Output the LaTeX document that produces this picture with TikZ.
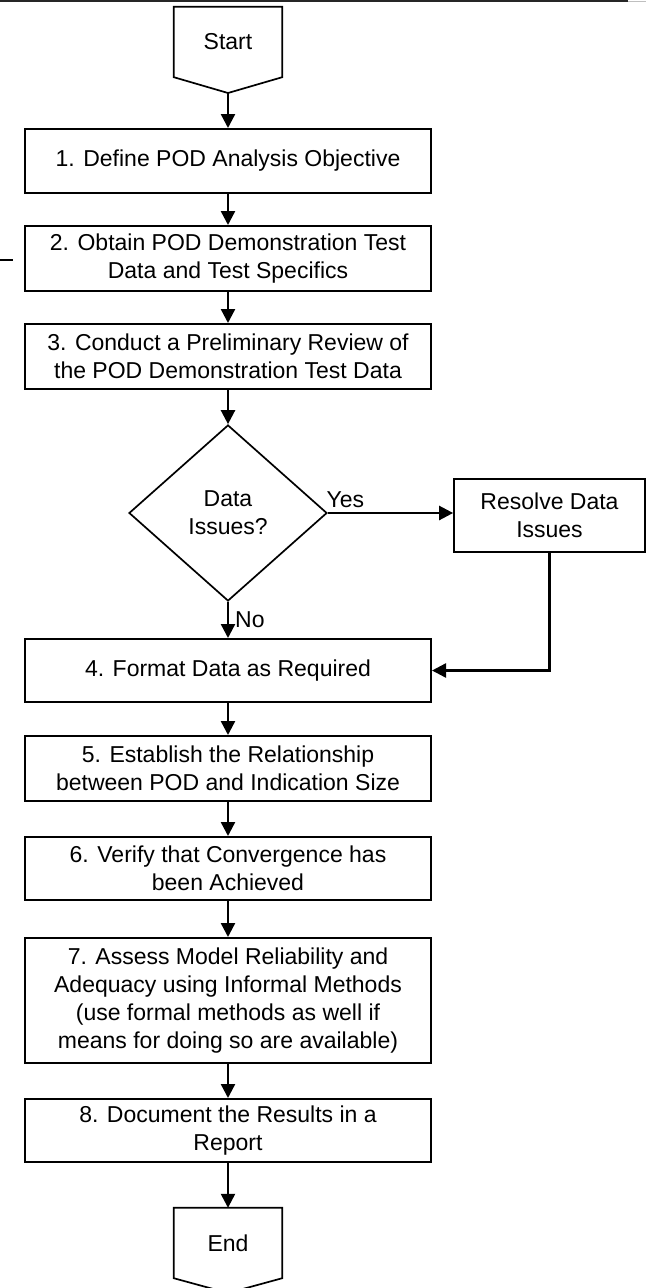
\documentclass[tikz,border=0pt]{standalone}
\usepackage{fontspec}
\setmainfont{Liberation Sans}
\usetikzlibrary{shapes.geometric,arrows.meta,calc}
\begin{document}
\begin{tikzpicture}[x=1pt,y=-1pt,
  every node/.style={font=\fontsize{23}{28}\selectfont},
  stepbox/.style={draw, line width=2pt, minimum width=406pt, align=center, inner sep=0pt},
  termbox/.style={minimum width=108pt, minimum height=70pt, inner sep=0pt},
  decbox/.style={draw, diamond, line width=1.7pt, minimum width=198pt, minimum height=176pt, inner sep=0pt, align=center},
  sidebox/.style={draw, line width=1.7pt, minimum width=191pt, minimum height=73pt, inner sep=0pt, align=center},
  flow/.style={line width=2.4pt, -{Triangle[length=14pt,width=14pt]}},
  lbl/.style={inner sep=0pt}
]
\useasboundingbox (0,0) rectangle (646,1288);
% page edge marks
\draw[line width=2.5pt, black!85] (0,1) -- (628,1);
\draw[line width=1pt, black!25] (628,1) -- (646,1);
\draw[line width=2pt] (0,260) -- (13,260);

% Start terminal
\node[termbox] (start) at (228,42) {Start};
\coordinate (startpt) at (228,93);
\draw[line width=1.7pt] (start.north west) -- (start.north east) -- (start.south east) -- (startpt) -- (start.south west) -- cycle;

\node[stepbox, minimum height=64pt] (s1) at (228,161) {1. Define POD Analysis Objective};
\node[stepbox, minimum height=65pt] (s2) at (228,258.5) {2. Obtain POD Demonstration Test\\Data and Test Specifics};
\node[stepbox, minimum height=65pt] (s3) at (228,356.5) {3. Conduct a Preliminary Review of\\the POD Demonstration Test Data};
\node[decbox] (dec) at (228,513) {Data\\Issues?};
\node[sidebox] (res) at (549.5,515.5) {Resolve Data\\Issues};
\node[stepbox, minimum height=63pt] (s4) at (228,670.5) {4. Format Data as Required};
\node[stepbox, minimum height=65pt] (s5) at (228,768.5) {5. Establish the Relationship\\between POD and Indication Size};
\node[stepbox, minimum height=63pt] (s6) at (228,868.5) {6. Verify that Convergence has\\been Achieved};
\node[stepbox, minimum height=125pt] (s7) at (228,1000.5) {7. Assess Model Reliability and\\Adequacy using Informal Methods\\(use formal methods as well if\\means for doing so are available)};
\node[stepbox, minimum height=63pt] (s8) at (228,1130.5) {8. Document the Results in a\\Report};

% End terminal
\node[termbox] (end) at (228,1243) {End};
\coordinate (endpt) at (228,1293);
\draw[line width=1.7pt] (end.north west) -- (end.north east) -- (end.south east) -- (endpt) -- (end.south west) -- cycle;

% connectors
\draw[flow] (startpt) -- (s1.north);
\draw[flow] (s1) -- (s2);
\draw[flow] (s2) -- (s3);
\draw[flow] (s3) -- (dec.north);
\draw[flow] (dec.east) -- (dec.east -| res.west) node[lbl, pos=0.14, above=4pt] {Yes};
\draw[flow] (dec.south) -- (s4.north) node[lbl, midway, right=6pt] {No};
\draw[flow] (res.south) |- (s4.east);
\draw[flow] (s4) -- (s5);
\draw[flow] (s5) -- (s6);
\draw[flow] (s6) -- (s7);
\draw[flow] (s7) -- (s8);
\draw[flow] (s8) -- (end.north);
\end{tikzpicture}
\end{document}
